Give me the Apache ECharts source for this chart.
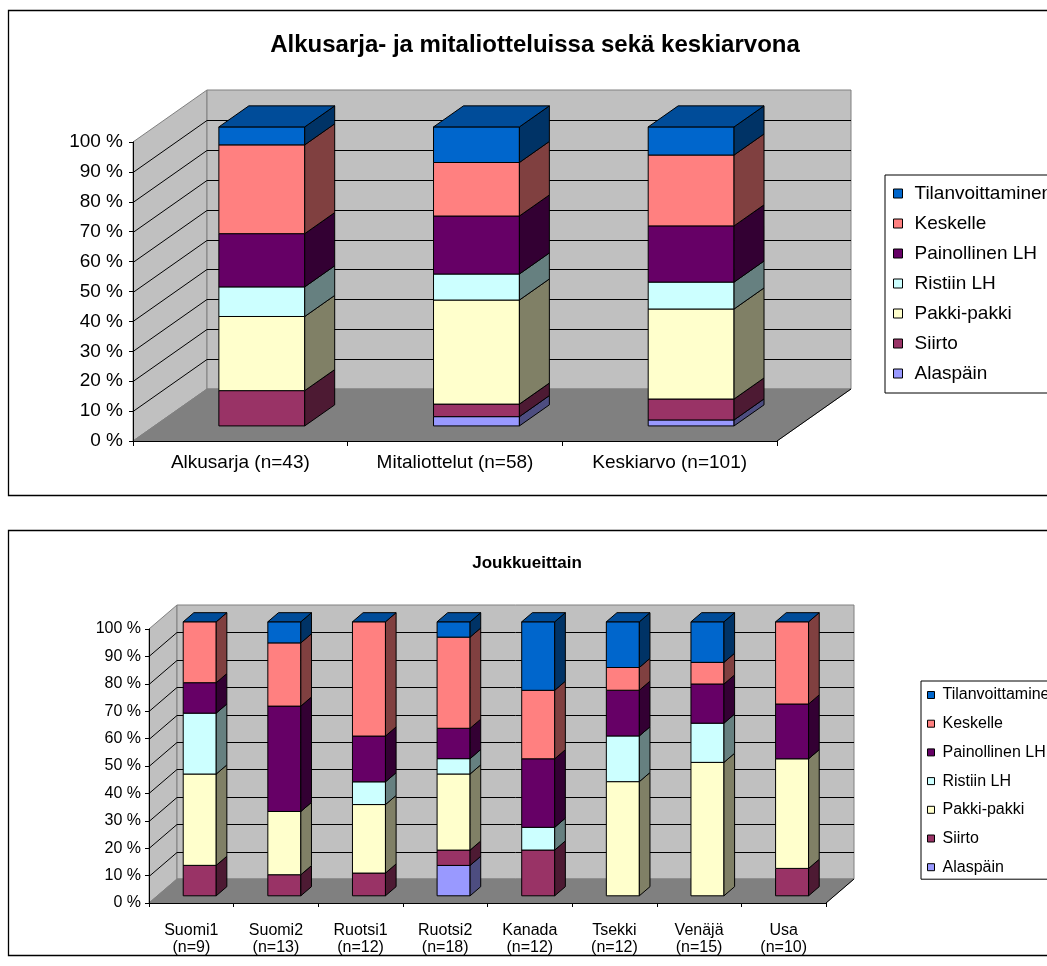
<!DOCTYPE html>
<html>
<head>
<meta charset="utf-8">
<script src="https://cdn.jsdelivr.net/npm/echarts@6/dist/echarts.min.js"></script>
<style>
  html, body { margin: 0; padding: 0; background: #fff; }
  #c { width: 1047px; height: 966px; }
</style>
</head>
<body>
<div id="c"></div>
<script>
// Stack order, bottom to top
const seriesNames = ['Alaspäin', 'Siirto', 'Pakki-pakki', 'Ristiin LH', 'Painollinen LH', 'Keskelle', 'Tilanvoittaminen'];
const legendOrder = seriesNames.slice().reverse();

// Upper chart: by tournament phase (percent of plays)
const phases = ['Alkusarja', 'Mitaliottelut', 'Keskiarvo'];
const phaseN = [43, 58, 101];
const phaseAlaspain = [0, 3.1, 2.0];
const phaseSiirto = [11.8, 4.2, 7.0];
const phasePakki = [24.8, 34.8, 30.1];
const phaseRistiin = [9.9, 8.7, 9.0];
const phasePainollinen = [17.8, 19.4, 18.8];
const phaseKeskelle = [29.7, 17.9, 23.7];
const phaseTilan = [6.0, 11.9, 9.4];

// Lower chart: by team (percent of plays)
const teams = ['Suomi1', 'Suomi2', 'Ruotsi1', 'Ruotsi2', 'Kanada', 'Tsekki', 'Venäjä', 'Usa'];
const teamN = [9, 13, 12, 18, 12, 12, 15, 10];
const teamAlaspain = [0, 0, 0, 11.1, 0, 0, 0, 0];
const teamSiirto = [11.1, 7.7, 8.3, 5.6, 16.7, 0, 0, 10];
const teamPakki = [33.3, 23.1, 25.0, 27.8, 0, 41.7, 48.7, 40];
const teamRistiin = [22.2, 0, 8.3, 5.6, 8.3, 16.7, 14.3, 0];
const teamPainollinen = [11.1, 38.5, 16.7, 11.1, 25, 16.7, 14.3, 20];
const teamKeskelle = [22.2, 23.1, 41.7, 33.3, 25, 8.3, 7.9, 30];
const teamTilan = [0, 7.7, 0, 5.6, 25, 16.7, 14.8, 0];

const yTicks = [0, 10, 20, 30, 40, 50, 60, 70, 80, 90, 100];

// front / side / top face colours per series
const faceColors = {
  'Alaspäin':         ['#9999FF', '#4D4D80', '#7373BF'],
  'Siirto':           ['#993366', '#4D1A33', '#73264D'],
  'Pakki-pakki':      ['#FFFFCC', '#808066', '#BFBF99'],
  'Ristiin LH':       ['#CCFFFF', '#668080', '#99BFBF'],
  'Painollinen LH':   ['#660066', '#330033', '#4D004D'],
  'Keskelle':         ['#FF8080', '#804040', '#BF6060'],
  'Tilanvoittaminen': ['#0066CC', '#003366', '#004C99']
};

const FONT = '"Liberation Sans", Arial, sans-serif';

const panels = [
  {
    title: 'Alkusarja- ja mitaliotteluissa sekä keskiarvona',
    categories: phases.map((p, i) => p + ' (n=' + phaseN[i] + ')'),
    values: [phaseAlaspain, phaseSiirto, phasePakki, phaseRistiin, phasePainollinen, phaseKeskelle, phaseTilan],
    grid: { left: 133, top: 142, right: 270, bottom: 525 },
    depth: [74, -52], frontFrac: 0.29, sideFrac: 0.405, barRatio: 0.4,
    fontSize: 19, titleSize: 24, titleX: 535, titleY: 45,
    xLabelMargin: 12, yLabelMargin: 10, tickLen: 5,
    legend: { left: 885, top: 175, itemGap: 11, icon: 9, padding: [9, 40, 10, 8], textPad: 7 },
    frame: { y: 10.5, h: 485 }
  },
  {
    title: 'Joukkueittain',
    categories: teams.map((t, i) => t + '\n(n=' + teamN[i] + ')'),
    values: [teamAlaspain, teamSiirto, teamPakki, teamRistiin, teamPainollinen, teamKeskelle, teamTilan],
    grid: { left: 149, top: 629, right: 221, bottom: 63 },
    depth: [28, -24], frontFrac: 0.30, sideFrac: 0.38, barRatio: 0.39,
    fontSize: 16, titleSize: 17, titleX: 527, titleY: 563,
    xLabelMargin: 19, yLabelMargin: 8, tickLen: 4,
    legend: { left: 921, top: 681, itemGap: 12.7, icon: 7, padding: [6, 40, 4, 6], textPad: 3 },
    frame: { y: 530.5, h: 425 }
  }
];

// Walls, floor and gridlines of the 3-D box
function wallRender(depth) {
  return function (params, api) {
    const cs = params.coordSys;
    const dx = depth[0], dy = depth[1];
    const x0 = cs.x, x1 = cs.x + cs.width, yt = cs.y, yb = cs.y + cs.height;
    const ch = [];
    ch.push({ type: 'polygon', shape: { points: [[x0, yb], [x0, yt], [x0 + dx, yt + dy], [x0 + dx, yb + dy]] },
      style: { fill: '#C0C0C0', stroke: '#808080', lineWidth: 1 } });
    ch.push({ type: 'polygon', shape: { points: [[x0 + dx, yt + dy], [x1 + dx, yt + dy], [x1 + dx, yb + dy], [x0 + dx, yb + dy]] },
      style: { fill: '#C0C0C0', stroke: '#808080', lineWidth: 1 } });
    ch.push({ type: 'polygon', shape: { points: [[x0, yb], [x1, yb], [x1 + dx, yb + dy], [x0 + dx, yb + dy]] },
      style: { fill: '#808080', stroke: '#808080', lineWidth: 1 } });
    ch.push({ type: 'line', shape: { x1: x1, y1: yb, x2: x1 + dx, y2: yb + dy },
      style: { stroke: '#000', lineWidth: 1 } });
    yTicks.forEach(function (v) {
      if (v <= 0 || v >= 100) return;
      const y = Math.round(api.coord([0, v])[1]) + 0.5;
      ch.push({ type: 'line', shape: { x1: x0, y1: y, x2: x0 + dx, y2: y + dy }, style: { stroke: '#000', lineWidth: 1 } });
      ch.push({ type: 'line', shape: { x1: x0 + dx, y1: y + dy, x2: x1 + dx, y2: y + dy }, style: { stroke: '#000', lineWidth: 1 } });
    });
    return { type: 'group', children: ch };
  };
}

// One stacked segment drawn as a prism: front face, right side, and top lid on the last series
function segRender(panel, colors, isTop) {
  return function (params, api) {
    const cat = api.value(0), lo = api.value(1), hi = api.value(2);
    const bw = api.size([1, 0])[0] * panel.barRatio;
    const pLo = api.coord([cat, lo]), pHi = api.coord([cat, hi]);
    const fx = panel.depth[0] * panel.frontFrac, fy = panel.depth[1] * panel.frontFrac;
    const sx = panel.depth[0] * panel.sideFrac, sy = panel.depth[1] * panel.sideFrac;
    const xl = pLo[0] - bw / 2 + fx, xr = pLo[0] + bw / 2 + fx;
    const yb = pLo[1] + fy, yt = pHi[1] + fy;
    const ch = [];
    const line = { stroke: '#000', lineWidth: 1, lineJoin: 'miter' };
    if (hi - lo > 0.0001) {
      ch.push({ type: 'polygon', shape: { points: [[xl, yb], [xr, yb], [xr, yt], [xl, yt]] },
        style: Object.assign({ fill: colors[0] }, line) });
      ch.push({ type: 'polygon', shape: { points: [[xr, yb], [xr, yt], [xr + sx, yt + sy], [xr + sx, yb + sy]] },
        style: Object.assign({ fill: colors[1] }, line) });
    }
    if (isTop) {
      ch.push({ type: 'polygon', shape: { points: [[xl, yt], [xr, yt], [xr + sx, yt + sy], [xl + sx, yt + sy]] },
        style: Object.assign({ fill: colors[2] }, line) });
    }
    return { type: 'group', children: ch };
  };
}

const option = {
  animation: false,
  backgroundColor: '#fff',
  grid: [], xAxis: [], yAxis: [], series: [], legend: [], graphic: []
};

panels.forEach(function (panel, pi) {
  option.grid.push(Object.assign({ containLabel: false }, panel.grid));
  option.xAxis.push({
    type: 'category', gridIndex: pi, data: panel.categories, boundaryGap: true, z: 10,
    axisLine: { show: true, lineStyle: { color: '#000', width: 1 } },
    axisTick: { show: true, length: panel.tickLen, lineStyle: { color: '#000' } },
    axisLabel: { color: '#000', fontSize: panel.fontSize, fontFamily: FONT, margin: panel.xLabelMargin,
      lineHeight: panel.fontSize + 1, interval: 0 },
    splitLine: { show: false }
  });
  option.yAxis.push({
    type: 'value', gridIndex: pi, min: 0, max: 100, interval: 10, z: 10,
    axisLine: { show: true, lineStyle: { color: '#000', width: 1 } },
    axisTick: { show: true, length: 4, lineStyle: { color: '#000' } },
    axisLabel: { color: '#000', fontSize: panel.fontSize, fontFamily: FONT, margin: panel.yLabelMargin,
      formatter: '{value} %' },
    splitLine: { show: false }
  });

  option.series.push({
    type: 'custom', xAxisIndex: pi, yAxisIndex: pi, z: 1, clip: false, silent: true,
    renderItem: wallRender(panel.depth),
    data: [[0, 0, 100]], encode: { x: 0, y: [1, 2] }
  });

  const nCat = panel.categories.length;
  const totals = [];
  for (let c = 0; c < nCat; c++) {
    let t = 0;
    panel.values.forEach(function (arr) { t += arr[c]; });
    totals.push(t);
  }
  const bases = new Array(nCat).fill(0);
  seriesNames.forEach(function (name, si) {
    const arr = panel.values[si];
    const data = [];
    for (let c = 0; c < nCat; c++) {
      const pct = arr[c] / totals[c] * 100;
      data.push([c, bases[c], bases[c] + pct]);
      bases[c] += pct;
    }
    option.series.push({
      type: 'custom', name: name, xAxisIndex: pi, yAxisIndex: pi, z: 5 + si, clip: false,
      itemStyle: { color: faceColors[name][0], borderColor: '#000', borderWidth: 1 },
      renderItem: segRender(panel, faceColors[name], si === seriesNames.length - 1),
      data: data, encode: { x: 0, y: [1, 2] }
    });
  });

  const lg = panel.legend;
  option.legend.push({
    orient: 'vertical', left: lg.left, top: lg.top, itemGap: lg.itemGap,
    itemWidth: lg.icon, itemHeight: lg.icon, icon: 'rect', selectedMode: false,
    backgroundColor: '#fff', borderColor: '#000', borderWidth: 1, borderRadius: 0,
    padding: lg.padding,
    itemStyle: { borderColor: '#000', borderWidth: 1 },
    textStyle: { color: '#000', fontSize: panel.fontSize, fontFamily: FONT, padding: [0, 0, 0, lg.textPad] },
    data: legendOrder
  });

  option.graphic.push({
    type: 'rect', silent: true, z: 0,
    shape: { x: 8.5, y: panel.frame.y, width: 1100, height: panel.frame.h },
    style: { fill: null, stroke: '#000', lineWidth: 1.3 }
  });
  option.graphic.push({
    type: 'text', silent: true, z: 20, x: panel.titleX, y: panel.titleY,
    style: { text: panel.title, fill: '#000', font: 'bold ' + panel.titleSize + 'px ' + FONT,
      textAlign: 'center', textVerticalAlign: 'middle' }
  });
});

const chart = echarts.init(document.getElementById('c'), null, { renderer: 'canvas' });
chart.setOption(option);
</script>
</body>
</html>
